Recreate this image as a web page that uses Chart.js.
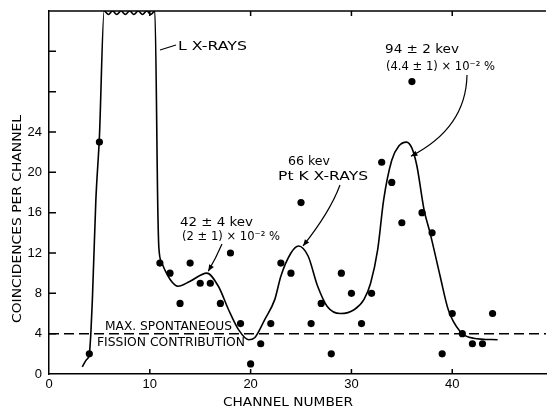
<!DOCTYPE html>
<html>
<head>
<meta charset="utf-8">
<script src="https://cdn.jsdelivr.net/npm/chart.js@4.4.1/dist/chart.umd.min.js"></script>
<style>
  body { margin: 0; background: #fff; }
  canvas { display: block; }
</style>
</head>
<body>
<canvas id="coinc" width="550" height="414"></canvas>
<script>
"use strict";

// measured coincidences per channel (channels 6-10 run off the top)
var channels = [4, 5, 11, 12, 13, 14, 15, 16, 17, 18, 19, 20, 21, 22, 23, 24, 25, 26, 27, 28, 29, 30, 31, 32, 33, 34, 35, 36, 37, 38, 39, 40, 41, 42, 43, 44];
var counts = [2, 23, 11, 10, 7, 11, 9, 9, 7, 12, 5, 1, 3, 5, 11, 10, 17, 5, 7, 2, 10, 8, 5, 8, 21, 19, 15, 29, 16, 14, 2, 6, 4, 3, 3, 6];

// hand drawn fit curve
var curveX = [3.3, 3.7, 4.0, 4.15, 4.3, 4.65, 5.0, 5.47, 5.9, 6.3, 6.72, 7.15, 7.57, 8.0, 8.42, 8.85, 9.27, 9.7, 10.1, 10.5, 10.8, 10.9, 11.2, 12.0, 12.8, 14.0, 15.65, 16.8, 17.8, 18.8, 19.8, 20.4, 21.4, 22.4, 23.0, 24.0, 24.75, 25.7, 26.65, 27.6, 28.9, 30.3, 31.25, 31.9, 32.6, 33.2, 34.0, 34.7, 35.45, 36.0, 36.5, 37.2, 37.8, 38.8, 39.6, 40.8, 42.1, 44.5];
var curveY = [0.7, 1.4, 2.0, 4.0, 7.3, 17.3, 23.5, 36, 35.65, 36, 35.65, 36, 35.65, 36, 35.65, 36, 35.65, 36, 35.65, 36, 16, 12.5, 11.0, 9.4, 8.7, 9.2, 10.0, 8.7, 6.4, 4.4, 3.4, 3.6, 5.4, 7.4, 9.7, 12.0, 12.7, 11.7, 8.7, 6.7, 6.0, 6.4, 7.4, 9.0, 12.3, 17.3, 21.2, 22.6, 23.0, 22.4, 20.6, 16.3, 14.0, 9.7, 6.4, 4.2, 3.55, 3.4];

var fissionLevel = 4;
var xTicks = [0, 10, 20, 30, 40];
var yTicks = [0, 4, 8, 12, 16, 20, 24, 28, 32, 36];
var yLabelMax = 24;
var xMax = 49.3;
var yMax = 36;

var FONT = '"DejaVu Sans", sans-serif';

function toPoints(xs, ys) {
  var out = [];
  for (var i = 0; i < xs.length; i++) out.push({ x: xs[i], y: ys[i] });
  return out;
}

// draw text squeezed/stretched to the width it has on the original
function fitText(ctx, str, x, y, w, size) {
  ctx.font = size + "px " + FONT;
  var m = ctx.measureText(str).width;
  ctx.save();
  ctx.translate(x, y);
  ctx.scale(w / m, 1);
  ctx.textAlign = "left";
  ctx.textBaseline = "middle";
  ctx.fillText(str, 0, 0);
  ctx.restore();
}

function arrow(ctx, x0, y0, cx, cy, x1, y1) {
  ctx.beginPath();
  ctx.moveTo(x0, y0);
  ctx.quadraticCurveTo(cx, cy, x1, y1);
  ctx.stroke();
  var a = Math.atan2(y1 - cy, x1 - cx);
  var len = 7;
  ctx.beginPath();
  ctx.moveTo(x1, y1);
  ctx.lineTo(x1 - len * Math.cos(a - 0.4), y1 - len * Math.sin(a - 0.4));
  ctx.lineTo(x1 - len * Math.cos(a + 0.4), y1 - len * Math.sin(a + 0.4));
  ctx.closePath();
  ctx.fill();
}

// no auto padding from the tick labels, the frame sits where the original has it
function noPad(scale) {
  scale.paddingTop = 0;
  scale.paddingBottom = 0;
  scale.paddingLeft = 0;
  scale.paddingRight = 0;
}

var decorPlugin = {
  id: "decor",
  afterDraw: function (chart) {
    var ctx = chart.ctx;
    var area = chart.chartArea;
    var xs = chart.scales.x;
    var ys = chart.scales.y;
    ctx.save();
    ctx.strokeStyle = "#000";
    ctx.fillStyle = "#000";
    ctx.lineWidth = 1.5;

    // top frame line
    ctx.beginPath();
    ctx.moveTo(area.left, area.top);
    ctx.lineTo(area.right, area.top);
    ctx.stroke();

    // inward tick marks
    ctx.beginPath();
    xTicks.forEach(function (v) {
      if (v === 0) return;
      var px = xs.getPixelForValue(v);
      ctx.moveTo(px, area.bottom);
      ctx.lineTo(px, area.bottom - 5);
      ctx.moveTo(px, area.top);
      ctx.lineTo(px, area.top + 5);
    });
    yTicks.forEach(function (v) {
      if (v === 0 || v === yMax) return;
      var py = ys.getPixelForValue(v);
      ctx.moveTo(area.left, py);
      ctx.lineTo(area.left + 7, py);
    });
    ctx.stroke();

    // annotations
    fitText(ctx, "L X-RAYS", 178, 47, 69, 13);
    fitText(ctx, "94 \u00b1 2 kev", 385, 50, 74, 13);
    fitText(ctx, "(4.4 \u00b1 1) \u00d7 10\u207b\u00b2 %", 386, 67, 109, 13);
    fitText(ctx, "66 kev", 288, 162, 42, 13);
    fitText(ctx, "Pt K X-RAYS", 278, 177, 90, 13);
    fitText(ctx, "42 \u00b1 4 kev", 180, 223, 73, 13);
    fitText(ctx, "(2 \u00b1 1) \u00d7 10\u207b\u00b2 %", 182, 237, 98, 13);
    fitText(ctx, "MAX. SPONTANEOUS", 105, 327, 127, 12);
    fitText(ctx, "FISSION CONTRIBUTION", 97, 343, 148, 12);

    ctx.lineWidth = 1.2;
    ctx.beginPath();
    ctx.moveTo(160, 50);
    ctx.lineTo(176, 45);
    ctx.stroke();
    arrow(ctx, 467, 75, 466, 128, xs.getPixelForValue(35.9), ys.getPixelForValue(21.6));
    arrow(ctx, 340, 185, 330, 212, xs.getPixelForValue(25.2), ys.getPixelForValue(12.7));
    arrow(ctx, 222, 244, 216, 258, xs.getPixelForValue(15.8), ys.getPixelForValue(10.2));

    // axis titles
    fitText(ctx, "CHANNEL NUMBER", 288 - 65, 403, 130, 12);
    ctx.save();
    ctx.translate(18, 219);
    ctx.rotate(-Math.PI / 2);
    fitText(ctx, "COINCIDENCES PER CHANNEL", -104, 0, 208, 12);
    ctx.restore();

    ctx.restore();
  }
};

var tickFont = { family: '"Liberation Sans", sans-serif', size: 13 };

new Chart(document.getElementById("coinc"), {
  type: "scatter",
  data: {
    datasets: [
      {
        data: toPoints(channels, counts),
        pointRadius: 3.6,
        pointBackgroundColor: "#000",
        pointBorderWidth: 0,
        showLine: false
      },
      {
        data: toPoints(curveX, curveY),
        showLine: true,
        pointRadius: 0,
        borderColor: "#000",
        borderWidth: 1.6,
        cubicInterpolationMode: "monotone"
      },
      {
        data: [{ x: 0, y: fissionLevel }, { x: xMax, y: fissionLevel }],
        showLine: true,
        pointRadius: 0,
        borderColor: "#000",
        borderWidth: 1.5,
        borderDash: [10, 5]
      }
    ]
  },
  options: {
    responsive: false,
    animation: false,
    layout: { padding: { top: 11, right: 0, left: 0, bottom: 0 } },
    plugins: { legend: { display: false }, tooltip: { enabled: false } },
    scales: {
      x: {
        type: "linear",
        min: 0,
        max: xMax,
        grid: { display: false, drawTicks: false },
        border: { color: "#000", width: 1.5 },
        ticks: { color: "#000", font: tickFont, padding: 3, maxRotation: 0 },
        afterBuildTicks: function (scale) {
          scale.ticks = xTicks.map(function (v) { return { value: v }; });
        },
        afterFit: function (scale) { scale.height = 40; noPad(scale); }
      },
      y: {
        min: 0,
        max: yMax,
        grid: { display: false, drawTicks: false },
        border: { color: "#000", width: 1.5 },
        ticks: {
          color: "#000",
          font: tickFont,
          padding: 7,
          callback: function (v) { return v <= yLabelMax ? v : ""; }
        },
        afterBuildTicks: function (scale) {
          scale.ticks = yTicks.map(function (v) { return { value: v }; });
        },
        afterFit: function (scale) { scale.width = 49; noPad(scale); }
      }
    }
  },
  plugins: [decorPlugin]
});
</script>
</body>
</html>
